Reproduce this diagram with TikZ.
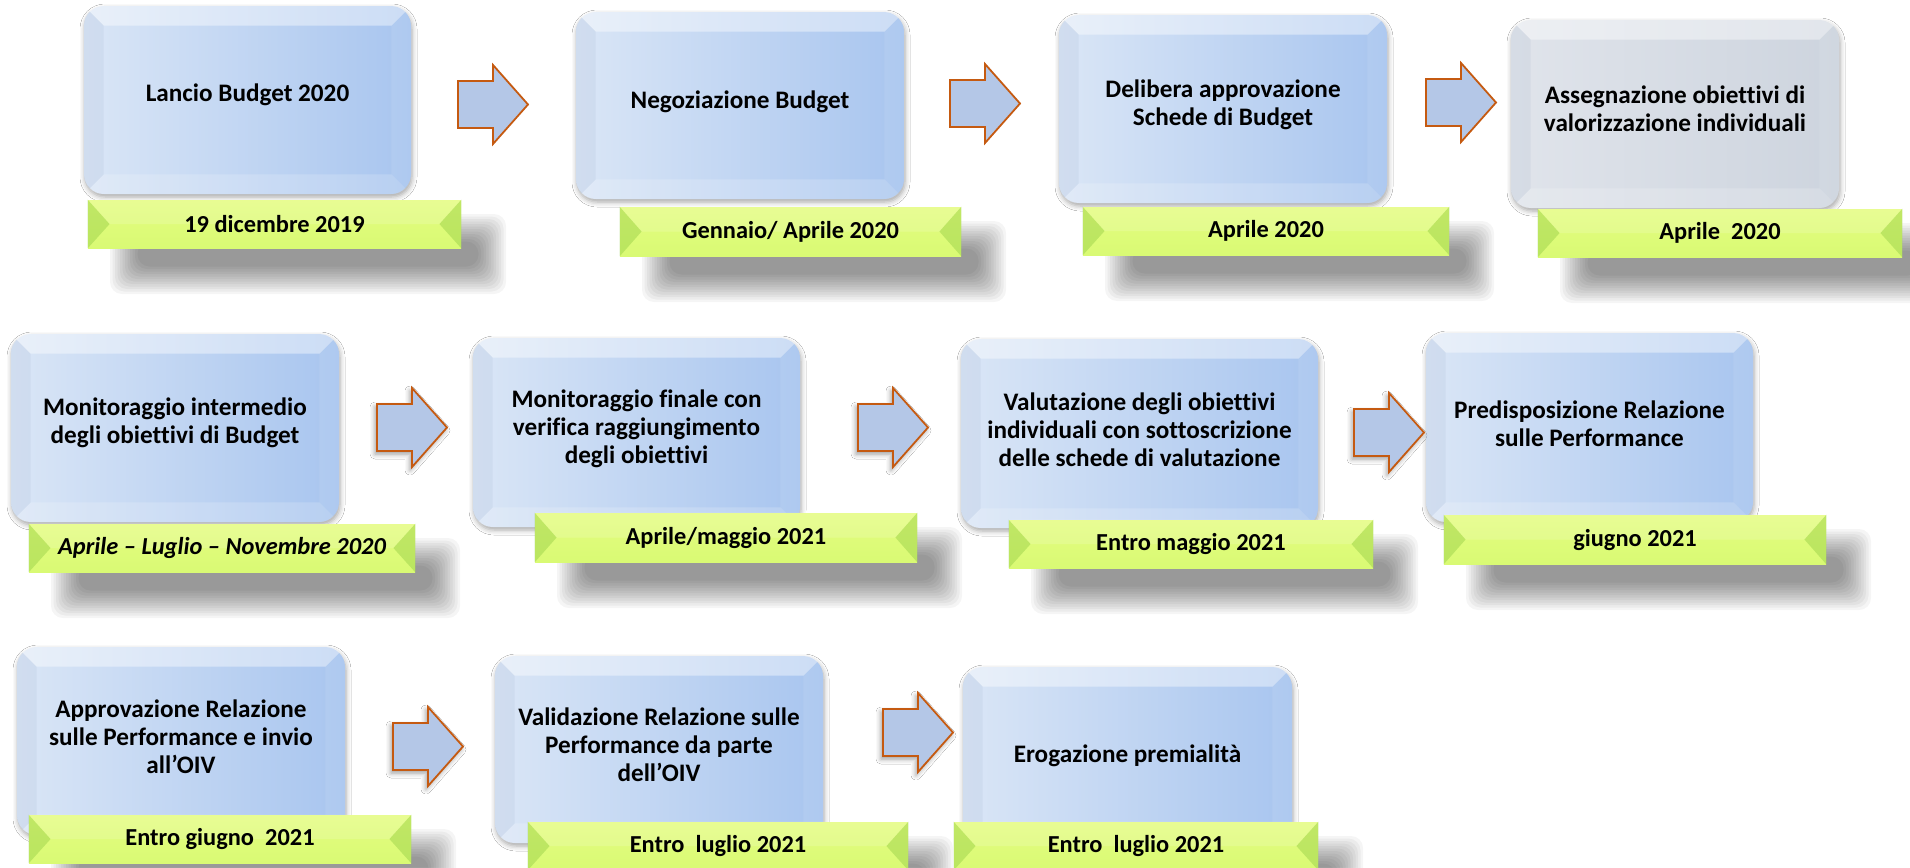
\documentclass[tikz,border=0pt]{standalone}
\usepackage{fontspec}
\setmainfont{Carlito}[Ligatures={NoCommon}]
\usetikzlibrary{shadows.blur}
\definecolor{bxL}{HTML}{DAE6F6}
\definecolor{bxR}{HTML}{A8C5EF}
\definecolor{gyL}{HTML}{E0E4EB}
\definecolor{gyR}{HTML}{CDD4DE}
\definecolor{gnT}{HTML}{E4FC80}
\definecolor{gnM}{HTML}{ACE157}
\definecolor{gnB}{HTML}{D9FA74}
\definecolor{gnD}{HTML}{8CC83F}
\definecolor{arF}{HTML}{B4C7E7}
\definecolor{arD}{HTML}{C55A11}
\definecolor{bevL}{HTML}{8FA3BF}
\tikzset{
  boxshape/.style={rounded corners=10pt, inner sep=0pt,
    blur shadow={shadow xshift=0.5pt, shadow yshift=-1.5pt, shadow blur radius=2.5pt, shadow opacity=35}},
  bluebox/.style={boxshape, left color=bxL, right color=bxR},
  greybox/.style={boxshape, left color=gyL, right color=gyR},
  boxtext/.style={font=\fontsize{12.6}{13.9}\selectfont\bfseries, align=center, inner sep=0pt, text=black},
  bandshape/.style={inner sep=0pt, top color=gnT, middle color=gnM, bottom color=gnB},
  bandshadow/.style={fill=black, opacity=.038, rounded corners=6pt},
  datetext/.style={font=\fontsize{12.2}{13.5}\selectfont\bfseries, inner sep=0pt, text=black},
  blockarrow/.style={fill=arF, draw=arD, line width=0.9pt, line join=miter},
  arrowshadow/.style={blur shadow={shadow xshift=-1pt, shadow yshift=-1.5pt, shadow blur radius=2.5pt, shadow opacity=40}}
}
% #1 name, #2 style, #3 x1, #4 y1, #5 x2, #6 y2, #7 text y, #8 text
\newcommand\phase[8]{%
  \node[#2, minimum width={(#5-#3)*0.5pt}, minimum height={(#6-#4)*0.5pt}] (#1) at ({(#3+#5)/2},{(#4+#6)/2}) {};
  \begin{scope}
    \clip[rounded corners=10pt] (#1.north west) rectangle (#1.south east);
    \fill[white,opacity=.42] (#1.north west) -- (#1.north east) -- ([shift={(-10pt,-10pt)}]#1.north east) -- ([shift={(10pt,-10pt)}]#1.north west) -- cycle;
    \fill[white,opacity=.18] (#1.south west) -- (#1.south east) -- ([shift={(-10pt,10pt)}]#1.south east) -- ([shift={(10pt,10pt)}]#1.south west) -- cycle;
    \fill[bevL,opacity=.12] (#1.north west) -- ([shift={(10pt,-10pt)}]#1.north west) -- ([shift={(10pt,10pt)}]#1.south west) -- (#1.south west) -- cycle;
    \fill[white,opacity=.08] (#1.north east) -- ([shift={(-10pt,-10pt)}]#1.north east) -- ([shift={(-10pt,10pt)}]#1.south east) -- (#1.south east) -- cycle;
  \end{scope}
  \node[boxtext] (#1t) at ({(#3+#5)/2},#7) {#8};
}
% #1 name, #2 x1, #3 y1, #4 x2, #5 y2, #6 text
\newcommand\dateband[6]{%
  \foreach \i in {0,...,11}{%
    \fill[bandshadow] ({#2+22+2.5*\i},{#3+14+2.5*\i}) rectangle ({#4+45-2.5*\i},{#5+46-2.5*\i});
  }
  \node[bandshape, minimum width={(#4-#2)*0.5pt}, minimum height={(#5-#3)*0.5pt}] (#1) at ({(#2+#4)/2},{(#3+#5)/2}) {};
  \fill[gnD,opacity=.40] (#1.north west) -- ([xshift=11pt]#1.west) -- (#1.south west) -- cycle;
  \fill[gnD,opacity=.40] (#1.north east) -- ([xshift=-11pt]#1.east) -- (#1.south east) -- cycle;
  \fill[white,opacity=.15] (#1.north west) -- (#1.north east) -- ([xshift=-11pt]#1.east) -- ([xshift=11pt]#1.west) -- cycle;
  \node[datetext] (#1t) at (#1.center) {#6};
}
% #1 options, #2 x, #3 y (top left)
\newcommand\blockarr[3][]{%
  \draw[blockarrow,#1] (#2,{#3+16}) -- ({#2+35},{#3+16}) -- ({#2+35},#3) -- ({#2+70},{#3+39.5})
     -- ({#2+35},{#3+79}) -- ({#2+35},{#3+63}) -- (#2,{#3+63}) -- cycle;
}
\begin{document}
\begin{tikzpicture}[x=0.5pt,y=-0.5pt]
\useasboundingbox[fill=white] (0,0) rectangle (1910,867);
% Row 1
\phase{b1}{bluebox}{84}{6}{411}{194}{95}{Lancio Budget 2020}
\dateband{g1}{88}{200}{461}{248}{19 dicembre 2019}
\phase{b2}{bluebox}{576}{12}{904}{199}{102}{Negoziazione Budget}
\dateband{g2}{620}{207}{961}{256}{Gennaio/ Aprile 2020}
\phase{b3}{bluebox}{1059}{15}{1387}{203}{105}{Delibera approvazione\\Schede di Budget}
\dateband{g3}{1083}{207}{1449}{255}{Aprile 2020}
\phase{b4}{greybox}{1511}{20}{1839}{208}{109}{Assegnazione obiettivi di\\valorizzazione individuali}
\dateband{g4}{1538}{209}{1902}{257}{Aprile~ 2020}
\blockarr{458}{65}
\blockarr{950}{64}
\blockarr{1426}{63}
% Row 2
\phase{b5}{bluebox}{11}{334}{339}{522}{423}{Monitoraggio intermedio\\degli obiettivi di Budget}
\dateband{g5}{29}{524}{415}{572}{\itshape Aprile – Luglio – Novembre 2020}
\phase{b6}{bluebox}{473}{338}{800}{527}{428.5}{Monitoraggio finale con\\verifica raggiungimento\\degli obiettivi}
\dateband{g6}{535}{513}{917}{562}{Aprile/maggio 2021}
\phase{b7}{bluebox}{961}{339}{1318}{528}{429.5}{Valutazione degli obiettivi\\individuali con sottoscrizione\\delle schede di valutazione}
\dateband{g7}{1009}{520}{1373}{568}{Entro maggio 2021}
\phase{b8}{bluebox}{1426}{333}{1753}{522}{423.5}{Predisposizione Relazione\\sulle Performance}
\dateband{g8}{1444}{515}{1826}{564}{giugno 2021}
\blockarr[arrowshadow]{377}{388}
\blockarr[arrowshadow]{858}{388}
\blockarr[arrowshadow]{1354}{393}
% Row 3
\phase{b9}{bluebox}{17}{647}{345}{835}{737}{Approvazione Relazione\\sulle Performance e invio\\all’OIV}
\dateband{g9}{29}{815}{411}{863}{Entro giugno~ 2021}
\phase{b10}{bluebox}{495}{656}{823}{843}{745}{Validazione Relazione sulle\\Performance da parte\\dell’OIV}
\dateband{g10}{528}{822}{908}{870}{Entro~ luglio 2021}
\phase{b11}{bluebox}{963}{667}{1292}{855}{756}{Erogazione premialità}
\dateband{g11}{954}{822}{1318}{870}{Entro~ luglio 2021}
\blockarr[arrowshadow]{393}{707}
\blockarr[arrowshadow]{883}{693}
\end{tikzpicture}
\end{document}
